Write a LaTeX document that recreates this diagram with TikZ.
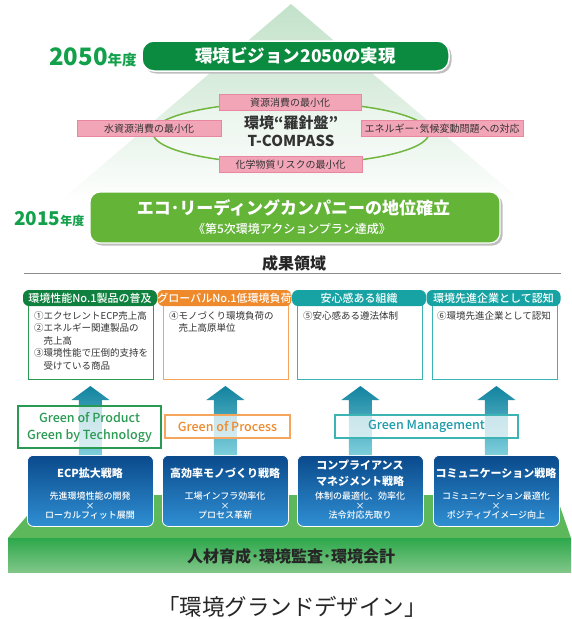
\documentclass[tikz,border=0pt]{standalone}
\usepackage{fontspec}
\setmainfont{Noto Sans CJK JP}
\newfontfamily\medium{Noto Sans CJK JP Medium}
\usetikzlibrary{calc}
\definecolor{dkgreen}{HTML}{0B8B3F}
\definecolor{yeargreen}{HTML}{13A04A}
\definecolor{ltgreen}{HTML}{63B437}
\definecolor{pyrgreen}{HTML}{C3E2CA}
\definecolor{pinkfill}{HTML}{F3A5B8}
\definecolor{pinkdraw}{HTML}{E8879F}
\definecolor{ellgreen}{HTML}{72B640}
\definecolor{txtgray}{HTML}{333333}
\definecolor{rgreen}{HTML}{10803F}
\definecolor{rgreenb}{HTML}{2A9A52}
\definecolor{rorange}{HTML}{EF8A2C}
\definecolor{rorangeb}{HTML}{F5A55C}
\definecolor{rteal}{HTML}{17A3A3}
\definecolor{rtealb}{HTML}{3DB4B4}
\definecolor{arrtop}{HTML}{12839F}
\definecolor{arrbot}{HTML}{7FCFDC}
\definecolor{bluetop}{HTML}{0A4A8C}
\definecolor{bluebot}{HTML}{2F8FD2}
\definecolor{plattop}{HTML}{5DB85C}
\definecolor{platf1}{HTML}{2DA84B}
\definecolor{platf2}{HTML}{80C688}
\definecolor{labteal}{HTML}{1C9BAA}
\begin{document}
\begin{tikzpicture}[x=1pt,y=-1pt,
  pinkbox/.style={draw=pinkdraw,fill=pinkfill,line width=0.8pt,minimum height=16,inner sep=0,
    font=\fontsize{10}{10}\selectfont,text=txtgray},
  rhead/.style={rounded corners=6,minimum width=134,minimum height=16,inner sep=0,text=white,
    font=\medium\fontsize{11}{11}\selectfont},
  rbody/.style={draw,line width=1.3pt,fill=white,minimum width=125,minimum height=74,anchor=north west,inner sep=0},
  rtext/.style={anchor=north west,inner sep=0,align=left,text=txtgray,font=\fontsize{9.5}{12.5}\selectfont},
  bluebox/.style={rounded corners=6,top color=bluetop,bottom color=bluebot,draw=white,line width=0.8pt,
    minimum width=126,minimum height=71,anchor=north west,inner sep=0},
  btitle/.style={text=white,font=\bfseries\fontsize{11}{16}\selectfont,align=center,inner sep=0},
  bsub/.style={text=white,font=\medium\fontsize{9}{9.5}\selectfont,align=center,inner sep=0},
  glabel/.style={fill=white,fill opacity=0.72,text opacity=1,line width=1.4pt,inner sep=0,
    font=\medium\fontsize{12.5}{17}\selectfont,align=center}
]
\useasboundingbox (0,0) rectangle (572,619);
% pyramid
\shade[top color=pyrgreen,bottom color=white,middle color=pyrgreen!55!white] (291,4) -- (523,202) -- (59,202) -- cycle;
% ellipse
\fill[white,opacity=0.35] (291,133) ellipse [x radius=138,y radius=31];
\draw[ellgreen,line width=1.5pt] (291,133) ellipse [x radius=138,y radius=31];
% pink boxes
\node[pinkbox,minimum width=142] (p1) at (290,102.5) {資源消費の最小化};
\node[pinkbox,minimum width=144] (p2) at (149,128.5) {水資源消費の最小化};
\node[pinkbox,minimum width=162] (p3) at (442,128.5) {エネルギー･気候変動問題への対応};
\node[pinkbox,minimum width=143] (p4) at (290.5,164.5) {化学物質リスクの最小化};
\node[text=txtgray,font=\bfseries\fontsize{15}{18}\selectfont,align=center,inner sep=0] (comp) at (291,131) {環境“羅針盤”\\T-COMPASS};
% 2050 bar
\fill[black!25,rounded corners=12] (144,43.5) rectangle (451.5,73.5);
\node[rounded corners=12,fill=dkgreen,draw=white,line width=1.5pt,minimum width=307,minimum height=30,inner sep=0,
  text=white,font=\bfseries\fontsize{17.5}{17.5}\selectfont] (vision) at (295.5,56) {環境ビジョン2050の実現};
\node[anchor=base west,inner sep=0,text=yeargreen,font=\bfseries] (y2050) at (49,65.5)
  {\fontsize{24}{24}\selectfont 2050\fontsize{14.5}{14.5}\selectfont 年度};
% 2015 bar
\fill[black!25,rounded corners=10] (92,194.5) rectangle (502.5,245.5);
\node[rounded corners=10,fill=ltgreen,draw=white,line width=1.2pt,minimum width=410,minimum height=51,inner sep=0] (eco) at (295,217.5) {};
\node[text=white,font=\bfseries\fontsize{17}{17}\selectfont,inner sep=0] (ecot) at (293.5,208) {エコ･リーディングカンパニーの地位確立};
\node[text=white,font=\medium\fontsize{12}{12}\selectfont,inner sep=0] (ecos) at (292,229) {《第5次環境アクションプラン達成》};
\node[anchor=base west,inner sep=0,text=yeargreen,font=\bfseries] (y2015) at (14,225.5)
  {\fontsize{19}{19}\selectfont 2015\fontsize{12}{12}\selectfont 年度};
\node[font=\bfseries\fontsize{16}{16}\selectfont,text=black!85,inner sep=0] (seika) at (294,263) {成果領域};
% separator
\coordinate (l1) at (24,273); \coordinate (l2) at (561,273);
\draw[black!45,line width=0.9pt] (l1) -- (l2);
% result boxes
\node[rbody,draw=rgreenb] (r1) at (28,305) {};
\node[rbody,draw=rorangeb] (r2) at (163,305) {};
\node[rbody,draw=rtealb] (r3) at (297,305) {};
\node[rbody,draw=rtealb] (r4) at (432,305) {};
\node[rhead,fill=rgreen] (h1) at (90,298) {環境性能No.1製品の普及};
\node[rhead,fill=rorange] (h2) at (224.5,298) {グローバルNo.1低環境負荷};
\node[rhead,fill=rteal] (h3) at (359,298) {安心感ある組織};
\node[rhead,fill=rteal] (h4) at (493.5,298) {環境先進企業として認知};
\node[rtext] (t1) at (34,311) {①エクセレントECP売上高\\②エネルギー関連製品の\\　売上高\\③環境性能で圧倒的支持を\\　受けている商品};
\node[rtext] (t2) at (169,311) {④モノづくり環境負荷の\\　売上高原単位};
\node[rtext] (t3) at (303,311) {⑤安心感ある遵法体制};
\node[rtext] (t4) at (437,311) {⑥環境先進企業として認知};
% platform
\fill[plattop] (8,538) -- (45,495) -- (556,495) -- (571,538) -- cycle;
\shade[top color=platf1,bottom color=platf2] (8,538) rectangle (571,572);
\node[font=\bfseries\fontsize{16}{16}\selectfont,text=black!85,inner sep=0] (base) at (291,556) {人材育成･環境監査･環境会計};
% blue boxes
\node[bluebox] (b1) at (27,455) {};
\node[bluebox] (b2) at (162,455) {};
\node[bluebox] (b3) at (297,455) {};
\node[bluebox] (b4) at (433,455) {};
% arrows
\foreach \b in {b1,b2,b3,b4}{
  \shade[top color=arrtop,bottom color=arrbot] let \p1=(\b.north) in
   (\x1-11.5pt,\y1) -- (\x1-11.5pt,\y1+55pt) -- (\x1-19pt,\y1+55pt) -- (\x1,\y1+69pt)
   -- (\x1+19pt,\y1+55pt) -- (\x1+11.5pt,\y1+55pt) -- (\x1+11.5pt,\y1) -- cycle;
}
% labels
\node[glabel,draw=rgreenb,text=rgreenb,minimum width=143,minimum height=42] (g1) at (89.5,427) {Green of Product\\Green by Technology};
\node[glabel,draw=rorangeb,text=rorange,minimum width=125,minimum height=23] (g2) at (227.5,426.5) {Green of Process};
\node[glabel,draw=rtealb,text=labteal,minimum width=183,minimum height=23] (g3) at (426.5,426.5) {Green Management};
% blue texts
\node[btitle] (bt1) at (90,473) {ECP拡大戦略};
\node[btitle] (bt2) at (225,473) {高効率モノづくり戦略};
\node[btitle] (bt3) at (360,473) {コンプライアンス\\マネジメント戦略};
\node[btitle] (bt4) at (496,473) {コミュニケーション戦略};
\node[bsub] (bs1) at (90,506) {先進環境性能の開発\\×\\ローカルフィット展開};
\node[bsub] (bs2) at (225,506) {工場インフラ効率化\\×\\プロセス革新};
\node[bsub] (bs3) at (360,506) {体制の最適化、効率化\\×\\法令対応先取り};
\node[bsub] (bs4) at (496,506) {コミュニケーション最適化\\×\\ポジティブイメージ向上};
% title
\node[font=\fontsize{22.5}{22.5}\selectfont,text=black!85,inner sep=0] (title) at (292,607) {「環境グランドデザイン」};
\end{tikzpicture}
\end{document}
